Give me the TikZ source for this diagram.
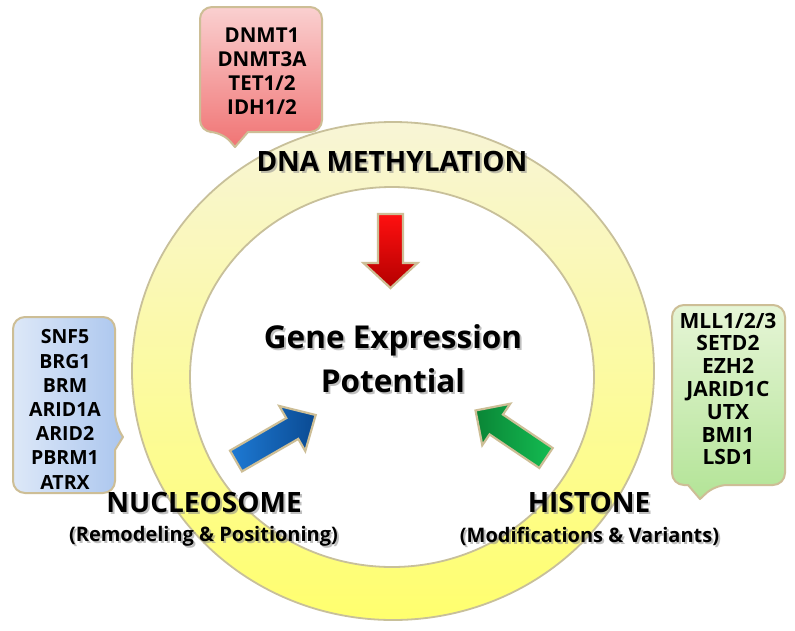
\documentclass[tikz,border=0pt]{standalone}
\usepackage{fontspec}
\setmainfont{Open Sans}
\usetikzlibrary{calc}
\definecolor{ringedge}{HTML}{C8C09A}
\definecolor{ringtop}{HTML}{F8F5D6}
\definecolor{ringbot}{HTML}{FFFF6E}
\definecolor{tanedge}{HTML}{CDBE96}
\definecolor{redtop}{HTML}{FAD0D0}
\definecolor{redbot}{HTML}{F07474}
\definecolor{bluel}{HTML}{DDE8F8}
\definecolor{bluer}{HTML}{ABC6EE}
\definecolor{greent}{HTML}{E6F5D6}
\definecolor{greenb}{HTML}{B3E497}
\definecolor{arrR1}{HTML}{FF1010}
\definecolor{arrR2}{HTML}{B40000}
\definecolor{arrB1}{HTML}{1E7AD4}
\definecolor{arrB2}{HTML}{0A4A92}
\definecolor{arrG1}{HTML}{0A8536}
\definecolor{arrG2}{HTML}{14BC52}
\newcommand\fatarrowdraw[7]{%
  \begin{scope}[shift={#1}, rotate=#2]
    \path[#7] (0,-#4/2) -- ({#3-#6},-#4/2) -- ({#3-#6},-#5/2) -- (#3,0)
      -- ({#3-#6},#5/2) -- ({#3-#6},#4/2) -- (0,#4/2) -- cycle;
  \end{scope}}
\begin{document}
\begin{tikzpicture}[x=1pt,y=-1pt,
  calloutbox/.style={draw=tanedge, line width=2pt, line join=round},
  listtxt/.style={font=\bfseries\fontsize{20.5}{24}\selectfont, align=center, inner sep=0pt},
  bigtxt/.style={font=\bfseries\fontsize{28}{30}\selectfont, inner sep=0pt},
  subtxt/.style={font=\bfseries\fontsize{20}{22}\selectfont, inner sep=0pt},
  centertxt/.style={font=\bfseries\fontsize{31.5}{44}\selectfont, align=center, inner sep=0pt},
  shadowtxt/.style={text=black!45, opacity=0.55},
  arrowedge/.style={draw=tanedge, line width=2.2pt, line join=miter}]
\useasboundingbox (0,0) rectangle (795,630);
\fill[white] (0,0) rectangle (795,630);

% ring
\path[draw=ringedge, line width=1.8pt, even odd rule, top color=ringtop, bottom color=ringbot]
  (393,371) ellipse [x radius=261, y radius=249]
  (392,377) ellipse [x radius=202, y radius=190];

% red callout
\path[calloutbox, top color=redtop, bottom color=redbot]
  (235,147) -- (248,132) [rounded corners=12] -- (322,132) -- (322,7) -- (200,7) -- (200,132) -- (222,132) [sharp corners] -- cycle;
\node[listtxt] (dna) at (262,71) {DNMT1\\DNMT3A\\TET1/2\\IDH1/2};

% blue callout
\path[calloutbox, left color=bluel, right color=bluer]
  (123,437) -- (115,450) [rounded corners=12] -- (115,493) -- (13,493) -- (13,317) -- (115,317) -- (115,424) [sharp corners] -- cycle;
\node[listtxt, font=\bfseries\fontsize{19.5}{24.2}\selectfont] (nuc) at (65,409.5) {SNF5\\BRG1\\BRM\\ARID1A\\ARID2\\PBRM1\\ATRX};

% green callout
\path[calloutbox, top color=greent, bottom color=greenb]
  (700,499) -- (688,485) [rounded corners=12] -- (672,485) -- (672,305) -- (785,305) -- (785,485) -- (715,485) [sharp corners] -- cycle;
\node[listtxt, font=\bfseries\fontsize{21}{22.8}\selectfont] (his) at (728,389) {MLL1/2/3\\SETD2\\EZH2\\JARID1C\\UTX\\BMI1\\LSD1};

% arrows
\fatarrowdraw{(390.5,214)}{-90}{74}{25}{54}{25}{arrowedge, top color=arrR1, bottom color=arrR2}
\fatarrowdraw{(236,461)}{30}{92}{24}{52}{27}{arrowedge, left color=arrB1, right color=arrB2}
\fatarrowdraw{(546,458)}{146}{85}{24}{50}{25}{arrowedge, left color=arrG1, right color=arrG2}

% titles with soft shadow
\node[bigtxt, shadowtxt] at (394,163) {DNA METHYLATION};
\node[bigtxt] (tdna) at (392,161) {DNA METHYLATION};

\node[centertxt, shadowtxt] at (395,361) {Gene Expression\\Potential};
\node[centertxt] (gene) at (393,359) {Gene Expression\\Potential};

\node[bigtxt, shadowtxt] at (206,504) {NUCLEOSOME};
\node[bigtxt] (tnuc) at (204,502) {NUCLEOSOME};
\node[subtxt, shadowtxt] at (205.5,538) {(Remodeling \& Positioning)};
\node[subtxt] (snuc) at (203.5,536) {(Remodeling \& Positioning)};

\node[bigtxt, shadowtxt] at (591,504) {HISTONE};
\node[bigtxt] (this) at (589,502) {HISTONE};
\node[subtxt, shadowtxt] at (591.5,538) {(Modifications \& Variants)};
\node[subtxt] (shis) at (589.5,536) {(Modifications \& Variants)};
\end{tikzpicture}
\end{document}
